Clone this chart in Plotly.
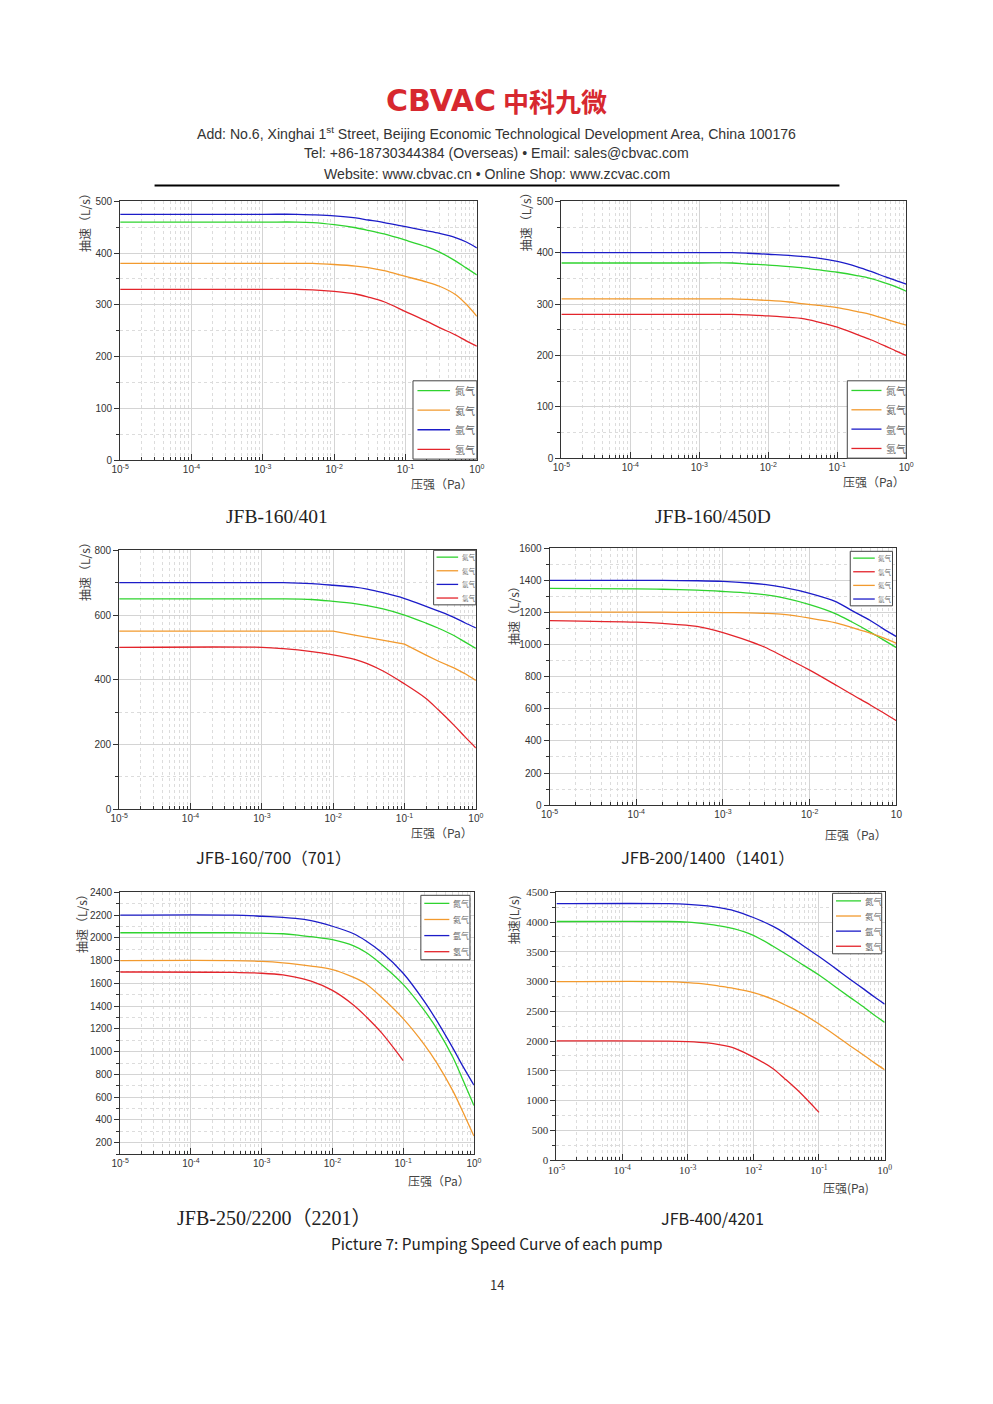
import plotly.graph_objects as go

# page is 993x1404; the browser keeps its 8px body margin, so the figure is 16px smaller
PAGE_W, PAGE_H = 993, 1404
M = 8
W, H = PAGE_W - 2 * M, PAGE_H - 2 * M

# Pumping speed curves (L/s) read from the page, pressure in Pa.
p1_x = [1e-5, 1e-3, 3e-3, 5e-3, 1e-2, 2e-2, 3e-2, 5e-2, 1e-1, 2e-1, 3e-1, 5e-1, 7e-1, 1]
p1_green = [460, 460, 460, 459, 455, 449, 444, 437, 425, 412, 402, 385, 372, 358]
p1_orange = [380, 380, 380, 380, 378, 375, 372, 366, 355, 344, 336, 320, 302, 278]
p1_blue = [475, 475, 475, 474, 472, 468, 464, 459, 451, 443, 438, 430, 422, 410]
p1_red = [330, 330, 330, 329, 326, 321, 315, 306, 287, 268, 256, 242, 231, 220]

p2_x = [1e-5, 1e-3, 3e-3, 5e-3, 1e-2, 2e-2, 3e-2, 5e-2, 1e-1, 2e-1, 3e-1, 5e-1, 7e-1, 1]
p2_green = [380, 380, 380, 378, 376, 373, 371, 367, 362, 355, 350, 341, 334, 325]
p2_orange = [310, 310, 310, 309, 307, 304, 301, 298, 293, 285, 280, 271, 265, 259]
p2_blue = [400, 400, 400, 399, 397, 395, 393, 390, 383, 372, 364, 353, 346, 339]
p2_red = [280, 280, 280, 279, 277, 274, 272, 266, 255, 240, 231, 218, 209, 200]

p3_x = [1e-5, 1e-3, 2e-3, 5e-3, 1e-2, 2e-2, 3e-2, 5e-2, 1e-1, 2e-1, 3e-1, 5e-1, 7e-1, 1]
p3_green = [650, 650, 650, 648, 642, 635, 629, 619, 600, 575, 559, 536, 517, 497]
p3_orange = [550, 550, 550, 550, 550, 538, 531, 522, 510, 476, 457, 436, 419, 398]
p3_blue = [700, 700, 700, 697, 692, 686, 680, 669, 651, 627, 612, 592, 576, 560]
p3_red = [500, 500, 496, 487, 477, 463, 450, 427, 387, 342, 306, 258, 224, 189]

p4_x = [1e-5, 1e-4, 2e-4, 5e-4, 1e-3, 2e-3, 3e-3, 5e-3, 1e-2, 2e-2, 3e-2, 5e-2, 7e-2, 1e-1]
p4_green = [1350, 1347, 1345, 1339, 1331, 1321, 1311, 1291, 1249, 1192, 1144, 1078, 1031, 981]
p4_red = [1150, 1140, 1132, 1114, 1075, 1022, 985, 925, 841, 748, 692, 624, 577, 526]
p4_orange = [1202, 1202, 1202, 1201, 1200, 1198, 1195, 1188, 1165, 1136, 1108, 1072, 1043, 1008]
p4_blue = [1400, 1400, 1400, 1398, 1394, 1384, 1375, 1357, 1320, 1268, 1215, 1150, 1100, 1050]

p5_x = [1e-5, 4e-4, 1e-3, 2e-3, 3e-3, 5e-3, 1e-2, 2e-2, 3e-2, 5e-2, 1e-1, 2e-1, 3e-1, 5e-1, 7e-1, 1]
p5_green = [2045, 2045, 2041, 2036, 2027, 2010, 1984, 1930, 1871, 1764, 1591, 1360, 1200, 955, 750, 527]
p5_orange = [1800, 1800, 1793, 1781, 1770, 1752, 1721, 1652, 1595, 1475, 1290, 1060, 900, 660, 470, 258]
p5_blue = [2200, 2200, 2190, 2180, 2172, 2152, 2102, 2036, 1972, 1871, 1689, 1440, 1270, 1035, 870, 706]
p5_red_x = [1e-5, 4e-4, 1e-3, 2e-3, 3e-3, 5e-3, 1e-2, 2e-2, 3e-2, 5e-2, 1e-1]
p5_red = [1700, 1697, 1689, 1674, 1654, 1619, 1538, 1408, 1307, 1163, 922]

p6_x = [1e-5, 5e-4, 1e-3, 2e-3, 3e-3, 5e-3, 1e-2, 2e-2, 3e-2, 5e-2, 1e-1, 2e-1, 3e-1, 5e-1, 7e-1, 1]
p6_green = [4010, 4010, 3999, 3966, 3938, 3888, 3776, 3593, 3475, 3320, 3110, 2870, 2730, 2556, 2435, 2314]
p6_orange = [2998, 2998, 2981, 2953, 2925, 2886, 2814, 2700, 2610, 2490, 2286, 2056, 1917, 1748, 1633, 1518]
p6_blue = [4310, 4310, 4299, 4271, 4243, 4194, 4077, 3927, 3815, 3649, 3420, 3180, 3036, 2860, 2740, 2620]
p6_red_x = [1e-5, 5e-4, 1e-3, 2e-3, 3e-3, 5e-3, 1e-2, 2e-2, 3e-2, 5e-2, 1e-1]
p6_red = [2002, 2000, 1991, 1969, 1941, 1885, 1730, 1535, 1368, 1146, 801]

gas_names = {"green": "氮气", "orange": "氦气", "blue": "氩气", "red": "氢气"}
colors = {"green": "#2fd32f", "orange": "#f29a2e", "blue": "#1c1cc8", "red": "#e3242b"}

titles = ["JFB-160/401", "JFB-160/450D", "JFB-160/700（701）",
          "JFB-200/1400（1401）", "JFB-250/2200（2201）", "JFB-400/4201"]

# panel boxes in page pixels: left, right, top, bottom
boxes = [(113, 476, 197, 458), (562, 913, 197, 456), (112, 475, 549, 810),
         (550, 903, 547, 806), (113, 473, 894, 1158), (557, 891, 894, 1164)]

panels = [
    dict(series=[("green", p1_x, p1_green), ("orange", p1_x, p1_orange),
                 ("blue", p1_x, p1_blue), ("red", p1_x, p1_red)],
         yr=[0, 500], dy=100, mdy=50, xr=[-5, 0], leg=(411, 476, 378, 457), lfs=10),
    dict(series=[("green", p2_x, p2_green), ("orange", p2_x, p2_orange),
                 ("blue", p2_x, p2_blue), ("red", p2_x, p2_red)],
         yr=[0, 500], dy=100, mdy=50, xr=[-5, 0], leg=(853, 913, 378, 456), lfs=10),
    dict(series=[("green", p3_x, p3_green), ("orange", p3_x, p3_orange),
                 ("blue", p3_x, p3_blue), ("red", p3_x, p3_red)],
         yr=[0, 800], dy=200, mdy=100, xr=[-5, 0], leg=(432, 475, 549, 604), lfs=6.5),
    dict(series=[("green", p4_x, p4_green), ("red", p4_x, p4_red),
                 ("orange", p4_x, p4_orange), ("blue", p4_x, p4_blue)],
         yr=[0, 1600], dy=200, mdy=100, xr=[-5, -1], leg=(856, 899, 550, 605), lfs=6.5),
    dict(series=[("green", p5_x, p5_green), ("orange", p5_x, p5_orange),
                 ("blue", p5_x, p5_blue), ("red", p5_red_x, p5_red)],
         yr=[100, 2400], dy=200, mdy=100, xr=[-5, 0], leg=(419, 469, 897, 962), lfs=8),
    dict(series=[("green", p6_x, p6_green), ("orange", p6_x, p6_orange),
                 ("blue", p6_x, p6_blue), ("red", p6_red_x, p6_red)],
         yr=[0, 4500], dy=500, mdy=250, xr=[-5, 0], leg=(838, 888, 895, 956), lfs=8.5),
]


def px(x):
    return (x - M) / W


def py(y):
    return 1 - (y - M) / H


def text(x, y, s, size, color="#333", family="Noto Sans CJK SC", angle=0, xanchor="center"):
    return dict(x=px(x), y=py(y), text=s, showarrow=False, xref="paper", yref="paper",
                xanchor=xanchor, yanchor="middle", textangle=angle,
                font=dict(family=family, size=size, color=color))


fig = go.Figure()
layout = {}
annotations = []
shapes = []
sans = "Liberation Sans, Noto Sans CJK SC"
serif = "Liberation Serif, Noto Sans CJK SC"

for i, (pan, box) in enumerate(zip(panels, boxes)):
    n = i + 1
    sfx = "" if n == 1 else str(n)
    for key, xs, ys in pan["series"]:
        shape = "linear" if (n == 3 and key == "orange") else "spline"
        fig.add_trace(go.Scatter(
            x=xs, y=ys, mode="lines", name=gas_names[key], showlegend=False,
            line=dict(color=colors[key], width=1.3, shape=shape, smoothing=0.9),
            xaxis="x" + sfx, yaxis="y" + sfx,
        ))
    l, r, t, b = box
    lo, hi = pan["xr"]
    decades = list(range(lo, hi + 1))
    tickvals = [10.0 ** e for e in decades]
    ticktext = [f"10<sup>{e}</sup>" for e in decades]
    if n == 4:
        ticktext[-1] = "10"
    minor_vals = [m * 10.0 ** e for e in range(lo, hi) for m in range(2, 10)]
    tick_font = dict(family=serif if n == 6 else sans, size=11 if n == 6 else 10, color="#333")
    layout["xaxis" + sfx] = dict(
        type="log", range=[lo, hi], domain=[px(l), px(r)], anchor="y" + sfx,
        tickmode="array", tickvals=tickvals, ticktext=ticktext,
        ticks="inside", ticklen=6, tickcolor="#333", tickfont=tick_font,
        showline=True, linecolor="#333", linewidth=1, mirror=True,
        showgrid=True, gridcolor="#d4d4d4", gridwidth=1,
        minor=dict(tickmode="array", tickvals=minor_vals, ticks="inside", ticklen=3,
                   tickcolor="#333", showgrid=True, gridcolor="#dcdcdc", griddash="dot"),
        zeroline=False,
    )
    layout["yaxis" + sfx] = dict(
        range=pan["yr"], domain=[py(b), py(t)], anchor="x" + sfx,
        tick0=0, dtick=pan["dy"], ticks="outside", ticklen=5, tickcolor="#333",
        tickfont=tick_font, showline=True, linecolor="#333", linewidth=1, mirror=True,
        showgrid=True, gridcolor="#d4d4d4", gridwidth=1,
        minor=dict(dtick=pan["mdy"], ticks="outside", ticklen=3, tickcolor="#333",
                   showgrid=True, gridcolor="#dcdcdc", griddash="dot"),
        zeroline=False,
    )

    # legend box drawn like the page's small framed key
    ll, lr, lt, lb = pan["leg"]
    lw = lr - ll
    shapes.append(dict(type="rect", xref="paper", yref="paper", x0=px(ll), x1=px(lr),
                       y0=py(lb), y1=py(lt), fillcolor="white",
                       line=dict(color="#444", width=1), layer="above"))
    for k, (key, _, _) in enumerate(pan["series"]):
        iy = lt + (lb - lt) * (k + 0.5) / 4
        shapes.append(dict(type="line", xref="paper", yref="paper",
                           x0=px(ll + lw * 0.07), x1=px(ll + lw * 0.58), y0=py(iy), y1=py(iy),
                           line=dict(color=colors[key], width=1.3), layer="above"))
        annotations.append(text(ll + lw * 0.62, iy, gas_names[key], pan["lfs"], "#666",
                                xanchor="left"))

# axis titles
ytitles = [(76, 215), (525, 215), (76, 567), (514, 612), (73, 922), (513, 922)]
xtitles = [(441, 482), (880, 480), (441, 834), (862, 836), (437, 1185), (852, 1192)]
for i, ((yx, yy), (xx, xy)) in enumerate(zip(ytitles, xtitles)):
    ylab = "抽速(L/s)" if i == 5 else "抽速（L/s）"
    xlab = "压强(Pa)" if i == 5 else "压强（Pa）"
    annotations.append(text(yx, yy, ylab, 12, "#444", angle=-90))
    annotations.append(text(xx, xy, xlab, 12, "#444"))

# captions under each chart
caps = [(273, 515, serif, 19.5), (716, 515, serif, 19.5), (269, 858, "Noto Sans CJK SC", 16.4),
        (711, 858, "Noto Sans CJK SC", 16.4), (270, 1222, serif, 20), (716, 1222, "Noto Sans CJK SC", 16.2)]
for s, (cx, cy, fam, size) in zip(titles, caps):
    annotations.append(text(cx, cy, s, size, "#222", fam))

# page header and footer
annotations += [
    text(440, 95, "<b>CBVAC</b>", 30, "#d7282f", "DejaVu Sans"),
    text(556, 95, "<b>中科九微</b>", 26, "#d7282f"),
    text(496, 128, "Add: No.6, Xinghai 1<sup>st</sup> Street, Beijing Economic Technological "
                   "Development Area, China 100176", 14.1, "#333", "Liberation Sans"),
    text(496, 148, "Tel: +86-18730344384 (Overseas) • Email: sales@cbvac.com", 14.1, "#333",
         "Liberation Sans"),
    text(496, 169, "Website: www.cbvac.cn • Online Shop: www.zcvac.com", 14.1, "#333",
         "Liberation Sans"),
    text(496, 1248, "Picture 7: Pumping Speed Curve of each pump", 15.4, "#222"),
    text(496, 1290, "14", 13, "#333"),
]
shapes.append(dict(type="line", xref="paper", yref="paper", x0=px(148), x1=px(845),
                   y0=py(181), y1=py(181), line=dict(color="black", width=2)))

layout["annotations"] = annotations
layout["shapes"] = shapes

fig.update_layout(
    width=W, height=H, autosize=False,
    margin=dict(l=0, r=0, t=0, b=0),
    paper_bgcolor="white", plot_bgcolor="white",
    **layout,
)

fig.write_html("out.html", config={"displayModeBar": False})
